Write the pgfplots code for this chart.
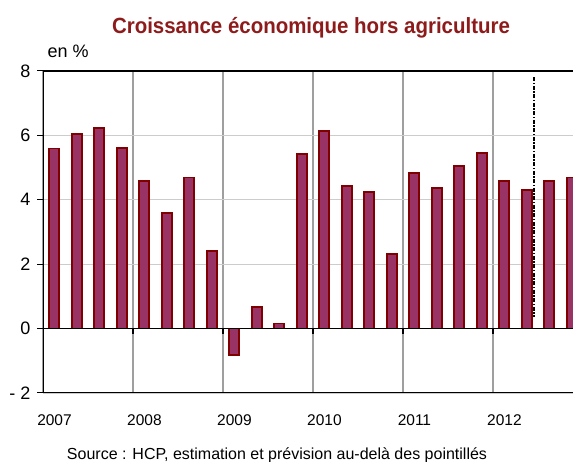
\documentclass[border=0pt]{standalone}
\usepackage{graphicx}
\usepackage{pgfplots}
\pgfplotsset{compat=1.18}
\usepackage{fontspec}
\setmainfont{Liberation Sans}
\definecolor{barfill}{HTML}{993366}
\definecolor{barline}{HTML}{800000}
\definecolor{titlered}{HTML}{8E1B1B}

\begin{document}
\begin{tikzpicture}[x=1bp,y=1bp]
\path[use as bounding box] (0,0) rectangle (573,462);

\node[font=\bfseries\fontsize{22bp}{24bp}\selectfont, text=titlered, anchor=base] at (311,428)
  {\scalebox{0.93}[1]{Croissance économique hors agriculture}};
\node[font=\fontsize{18bp}{20bp}\selectfont, anchor=base west] at (44,404) {en \%};
\node[font=\fontsize{16bp}{18bp}\selectfont, anchor=base] at (277,2.5)
  {Source : HCP, estimation et prévision au-delà des pointillés};

\begin{axis}[
  at={(43bp,69bp)}, anchor=south west,
  scale only axis, width=530bp, height=322bp,
  xmin=0, xmax=23.56, ymin=-2, ymax=8,
  axis line style={draw=none},
  clip=true,
  ytick={-2,0,...,8},
  yticklabels={- 2,0,2,4,6,8},
  xtick={0,4,...,20},
  xticklabels={2007,2008,2009,2010,2011,2012},
  xtick style={draw=none},
  ytick style={black, line width=1bp},
  tick align=outside, major tick length=6bp,
  xticklabel style={xshift=11.5bp, yshift=-12bp, font=\fontsize{15.5bp}{17bp}\selectfont},
  yticklabel style={xshift=-3bp, font=\fontsize{18bp}{20bp}\selectfont},
  /pgf/number format/assume math mode=true,
  xmajorgrids, ymajorgrids,
  every axis x grid/.style={gray!75, line width=1.2bp},
  every axis y grid/.style={black!20, line width=1.2bp},
  ybar, bar shift=0pt, bar width=10bp,
]
\addplot[fill=barfill, draw=barline, line width=1.7bp] coordinates {
  (0.5,5.59) (1.5,6.04) (2.5,6.24) (3.5,5.60)
  (4.5,4.59) (5.5,3.59) (6.5,4.69) (7.5,2.41)
  (8.5,-0.83) (9.5,0.67) (10.5,0.16) (11.5,5.43)
  (12.5,6.14) (13.5,4.42) (14.5,4.24) (15.5,2.31)
  (16.5,4.84) (17.5,4.37) (18.5,5.06) (19.5,5.45)
  (20.5,4.58) (21.5,4.30) (22.5,4.58) (23.5,4.69)
};
\addplot[sharp plot, black, line width=2bp, dash pattern=on 4bp off 1.5bp on 1.5bp off 1.5bp] coordinates {
  (21.82,7.8) (21.82,0.35)
};
\draw[black, line width=1.2bp] (rel axis cs:0,1) -- (rel axis cs:1,1);
\draw[black, line width=1.2bp] (rel axis cs:0,0) -- (rel axis cs:1,0);
\draw[black, line width=1.2bp] (rel axis cs:0,0) -- (rel axis cs:0,1);
\draw[black, line width=1.2bp] (axis cs:0,0) -- (axis cs:23.56,0);
\pgfplotsinvokeforeach{4,8,12,16,20}{
  \draw[black, line width=1.3bp] ([yshift=-5bp]axis cs:#1,0) -- (axis cs:#1,0);
}
\end{axis}
\end{tikzpicture}
\end{document}
